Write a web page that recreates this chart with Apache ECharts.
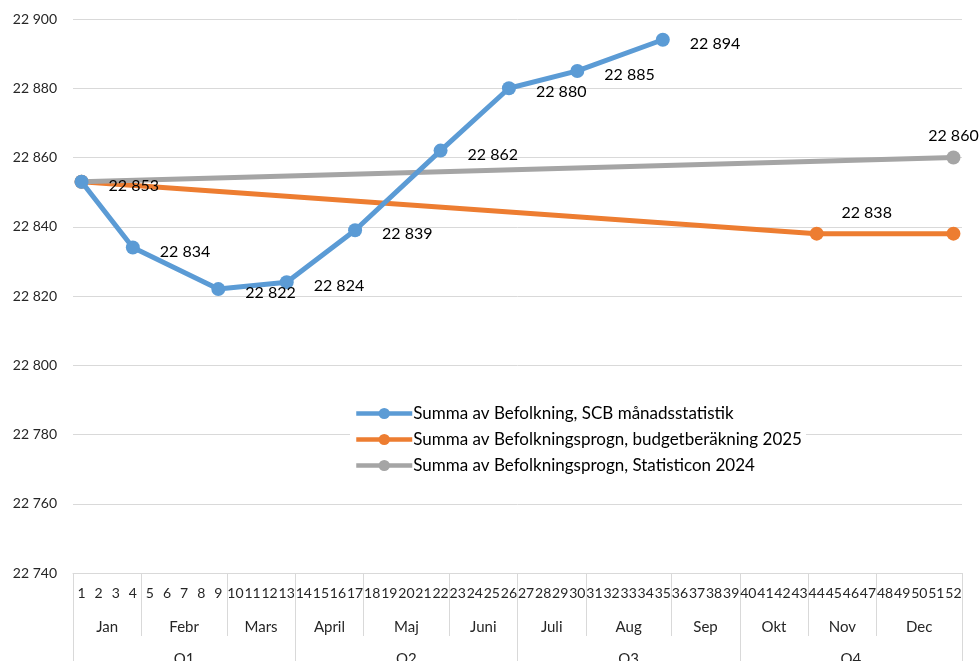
<!DOCTYPE html>
<html>
<head>
<meta charset="utf-8">
<script src="https://cdn.jsdelivr.net/npm/echarts@6/dist/echarts.min.js"></script>
<style>html,body{margin:0;padding:0;background:#fff}#c{width:980px;height:661px}</style>
</head>
<body>
<div id="c"></div>
<script>
var weeks = ['1','2','3','4','5','6','7','8','9','10','11','12','13','14','15','16','17','18','19','20','21','22','23','24','25','26','27','28','29','30','31','32','33','34','35','36','37','38','39','40','41','42','43','44','45','46','47','48','49','50','51','52'];
var months = ['Jan','Febr','Mars','April','Maj','Juni','Juli','Aug','Sep','Okt','Nov','Dec'];
var monthWeekCounts = [4,5,4,4,5,4,4,5,4,4,4,5];
var quarters = ['Q1','Q2','Q3','Q4'];
var quarterWeekCounts = [13,13,13,13];

var scbName = 'Summa av Befolkning, SCB månadsstatistik';
var scbWeeks = ['1','4','9','13','17','22','26','30','35'];
var scbValues = [22853,22834,22822,22824,22839,22862,22880,22885,22894];

var budgetName = 'Summa av Befolkningsprogn, budgetberäkning 2025';
var budgetWeeks = ['1','44','52'];
var budgetValues = [22853,22838,22838];

var statName = 'Summa av Befolkningsprogn, Statisticon 2024';
var statWeeks = ['1','52'];
var statValues = [22853,22860];

var yMin = 22740, yMax = 22900, yStep = 20;

function fmt(v){ var s = String(v); return s.slice(0, s.length-3) + ' ' + s.slice(-3); }

var monthStarts = {}, monthLabelAt = {};
(function(){
  var idx = 0;
  for (var m = 0; m < months.length; m++) {
    monthStarts[idx] = true;
    var n = monthWeekCounts[m];
    var mid = Math.floor((n - 1) / 2);
    monthLabelAt[idx + mid] = { name: months[m], even: n % 2 === 0 };
    idx += n;
  }
})();
var quarterStarts = {}, quarterLabelAt = {};
(function(){
  var idx = 0;
  for (var q = 0; q < quarters.length; q++) {
    quarterStarts[idx] = true;
    var n = quarterWeekCounts[q];
    var mid = Math.floor((n - 1) / 2);
    quarterLabelAt[idx + mid] = { name: quarters[q], even: n % 2 === 0 };
    idx += n;
  }
})();

function pairs(ws, vs){ return ws.map(function(w,i){ return [w, vs[i]]; }); }

var FONT = 'Lato';
var gridColor = '#d9d9d9';
var txt = '#262626';
var LW = 5, SS = 14;

function labelFmt(p){ return fmt(p.value[1]); }

var chart = echarts.init(document.getElementById('c'));
chart.setOption({
  animation: false,
  textStyle: { fontFamily: FONT },
  grid: { left: 73, right: 18, top: 19, bottom: 88, containLabel: false, outerBoundsMode: 'none' },
  legend: {
    orient: 'vertical',
    left: 350, top: 401,
    itemWidth: 56, itemHeight: 14, itemGap: 9,
    backgroundColor: '#fff',
    padding: [4, 4, 4, 4],
    lineStyle: { width: 4.5 },
    textStyle: { fontFamily: FONT, fontSize: 17, color: '#000', padding: [0,0,0,-4] },
    data: [scbName, budgetName, statName]
  },
  xAxis: [
    {
      type: 'category', data: weeks, boundaryGap: true, position: 'bottom',
      axisLine: { show: true, lineStyle: { color: gridColor, width: 1 } },
      axisTick: { show: true, length: 63, lineStyle: { color: gridColor },
        interval: function(i){ return !!monthStarts[i]; } },
      axisLabel: { interval: 0, margin: 13, fontSize: 14, color: txt, fontFamily: FONT }
    },
    {
      type: 'category', data: weeks, boundaryGap: true, position: 'bottom',
      axisLine: { show: false }, axisTick: { show: false },
      axisLabel: { interval: 0, margin: 47, fontSize: 15, color: txt, fontFamily: FONT,
        formatter: function(v, i){ var m = monthLabelAt[i]; if (!m) return ''; return m.even ? '{e|' + m.name + '}' : '{o|' + m.name + '}'; },
        rich: { e: { padding: [0,0,0,17.1], fontSize: 15, color: txt, fontFamily: FONT }, o: { fontSize: 15, color: txt, fontFamily: FONT } } }
    },
    {
      type: 'category', data: weeks, boundaryGap: true, position: 'bottom',
      axisLine: { show: false },
      axisTick: { show: true, length: 100, lineStyle: { color: gridColor },
        interval: function(i){ return !!quarterStarts[i]; } },
      axisLabel: { interval: 0, margin: 79, fontSize: 15, color: txt, fontFamily: FONT,
        formatter: function(v, i){ var q = quarterLabelAt[i]; return q ? q.name : ''; } }
    }
  ],
  yAxis: {
    type: 'value', min: yMin, max: yMax, interval: yStep,
    axisLine: { show: false }, axisTick: { show: false },
    splitLine: { lineStyle: { color: gridColor, width: 1 } },
    axisLabel: { margin: 16, fontSize: 14, color: txt, fontFamily: FONT, formatter: fmt }
  },
  series: [
    {
      name: budgetName, type: 'line', z: 2,
      data: pairs(budgetWeeks, budgetValues).map(function(d, i){
        return i === 1 ? { value: d, label: { show: true, position: 'top', offset: [50, 2], distance: 8, fontSize: 16, color: '#000', fontFamily: FONT, formatter: labelFmt } } : { value: d };
      }),
      symbol: 'circle', symbolSize: SS,
      lineStyle: { width: LW, color: '#ED7D31' }, itemStyle: { color: '#ED7D31' },
      label: { show: false }
    },
    {
      name: statName, type: 'line', z: 3,
      data: pairs(statWeeks, statValues).map(function(d, i){
        return i === 1 ? { value: d, label: { show: true, position: 'top', distance: 7, fontSize: 16, color: '#000', fontFamily: FONT, formatter: labelFmt } } : { value: d };
      }),
      symbol: 'circle', symbolSize: SS,
      lineStyle: { width: LW, color: '#A5A5A5' }, itemStyle: { color: '#A5A5A5' },
      label: { show: false }
    },
    {
      name: scbName, type: 'line', z: 4,
      data: pairs(scbWeeks, scbValues),
      symbol: 'circle', symbolSize: SS,
      lineStyle: { width: LW, color: '#5B9BD5' }, itemStyle: { color: '#5B9BD5' },
      label: { show: true, position: 'right', distance: 20, fontSize: 16, color: '#000', fontFamily: FONT,
        offset: [0, 4], formatter: labelFmt }
    }
  ]
});
</script>
</body>
</html>
